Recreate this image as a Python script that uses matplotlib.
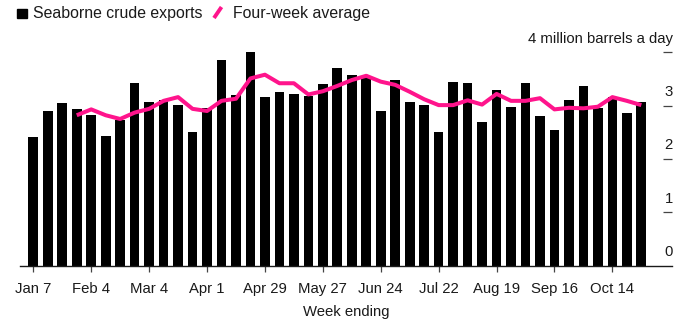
import matplotlib
matplotlib.use("Agg")
import matplotlib.pyplot as plt
from matplotlib.patches import Rectangle
from matplotlib.lines import Line2D
from matplotlib.transforms import blended_transform_factory, offset_copy

plt.rcParams["font.family"] = ["Liberation Sans", "DejaVu Sans"]

# Weekly seaborne crude exports, million barrels a day (weeks ending Jan 7 .. Oct 28)
exports = [2.42, 2.90, 3.05, 2.94, 2.82, 2.44, 2.73, 3.42, 3.07, 3.10,
           3.02, 2.51, 2.95, 3.85, 3.20, 4.00, 3.16, 3.25, 3.21, 3.18,
           3.41, 3.71, 3.57, 3.55, 2.90, 3.49, 3.07, 3.01, 2.51, 3.44,
           3.43, 2.69, 3.29, 2.97, 3.43, 2.81, 2.54, 3.11, 3.36, 2.95,
           3.16, 2.87, 3.07]

# Four-week average, first value at the fourth week (Jan 28)
avg_start = 3
four_week_avg = [2.82, 2.93, 2.82, 2.75, 2.87, 2.94, 3.09, 3.16, 2.94, 2.90,
                 3.09, 3.13, 3.51, 3.58, 3.42, 3.42, 3.21, 3.27, 3.37, 3.48,
                 3.56, 3.45, 3.39, 3.26, 3.12, 3.01, 3.01, 3.10, 3.02, 3.22,
                 3.09, 3.09, 3.14, 2.93, 2.96, 2.95, 2.98, 3.16, 3.09, 3.01]

tick_weeks = [0, 4, 8, 12, 16, 20, 24, 28, 32, 36, 40]
tick_labels = ["Jan 7", "Feb 4", "Mar 4", "Apr 1", "Apr 29", "May 27",
               "Jun 24", "Jul 22", "Aug 19", "Sep 16", "Oct 14"]
y_values = [0, 1, 2, 3, 4]
y_labels = ["0", "1", "2", "3", "4 million barrels a day"]

PINK = "#ff148c"
FS = 10.7

W, H = 700, 324
fig = plt.figure(figsize=(W / 100, H / 100), dpi=100)
ax_left, ax_right = 20 / W, 672 / W
y0_px, unit_px = 265.7, 53.35
ymax = 4.3
ax_bottom = (H - y0_px) / H
ax_top = (H - (y0_px - ymax * unit_px)) / H
ax = fig.add_axes([ax_left, ax_bottom, ax_right - ax_left, ax_top - ax_bottom])

weeks = list(range(len(exports)))
ax.bar(weeks, exports, width=0.67, color="black", zorder=2)
avg_weeks = list(range(avg_start, avg_start + len(four_week_avg)))
ax.plot(avg_weeks, four_week_avg, color=PINK, lw=2.9, solid_joinstyle="round",
        solid_capstyle="butt", zorder=3)

ax.set_xlim(-0.92, 44.12)
ax.set_ylim(0, ymax)

for side in ("top", "left", "right"):
    ax.spines[side].set_visible(False)
ax.spines["bottom"].set_color("#1a1a1a")
ax.spines["bottom"].set_linewidth(1.0)
ax.spines["bottom"].set_zorder(4)

ax.set_xticks(tick_weeks)
ax.set_xticklabels(tick_labels, fontsize=FS, color="#1a1a1a")
ax.tick_params(axis="x", length=4.5, width=0.9, color="#444444", pad=7.5)

ax.yaxis.tick_right()
ax.set_yticks(y_values[1:])
ax.set_yticklabels([])
ax.tick_params(axis="y", direction="in", length=6.8, width=0.9, color="#444444")

trans = blended_transform_factory(ax.transAxes, ax.transData)
trans = offset_copy(trans, fig=fig, x=0.5, y=7.0, units="points")
for v, lab in zip(y_values, y_labels):
    ax.text(1.0, v, lab, transform=trans, ha="right", va="baseline",
            fontsize=FS, color="#1a1a1a")

ax.set_xlabel("Week ending", fontsize=FS, color="#1a1a1a", labelpad=6.5)

# Legend row
fig.patches.append(Rectangle((17.3 / W, 1 - 18.3 / H), 9.5 / W, 9.8 / H,
                             transform=fig.transFigure, color="black"))
fig.text(33.3 / W, 1 - 18.3 / H, "Seaborne crude exports", fontsize=11.4,
         ha="left", va="baseline", color="#1a1a1a")
fig.lines.append(Line2D([214 / W, 221.5 / W], [1 - 18 / H, 1 - 7 / H],
                        transform=fig.transFigure, color=PINK, lw=2.8,
                        solid_capstyle="butt"))
fig.text(233.3 / W, 1 - 18.3 / H, "Four-week average", fontsize=11.4,
         ha="left", va="baseline", color="#1a1a1a")

fig.savefig("out.png", dpi=100)
